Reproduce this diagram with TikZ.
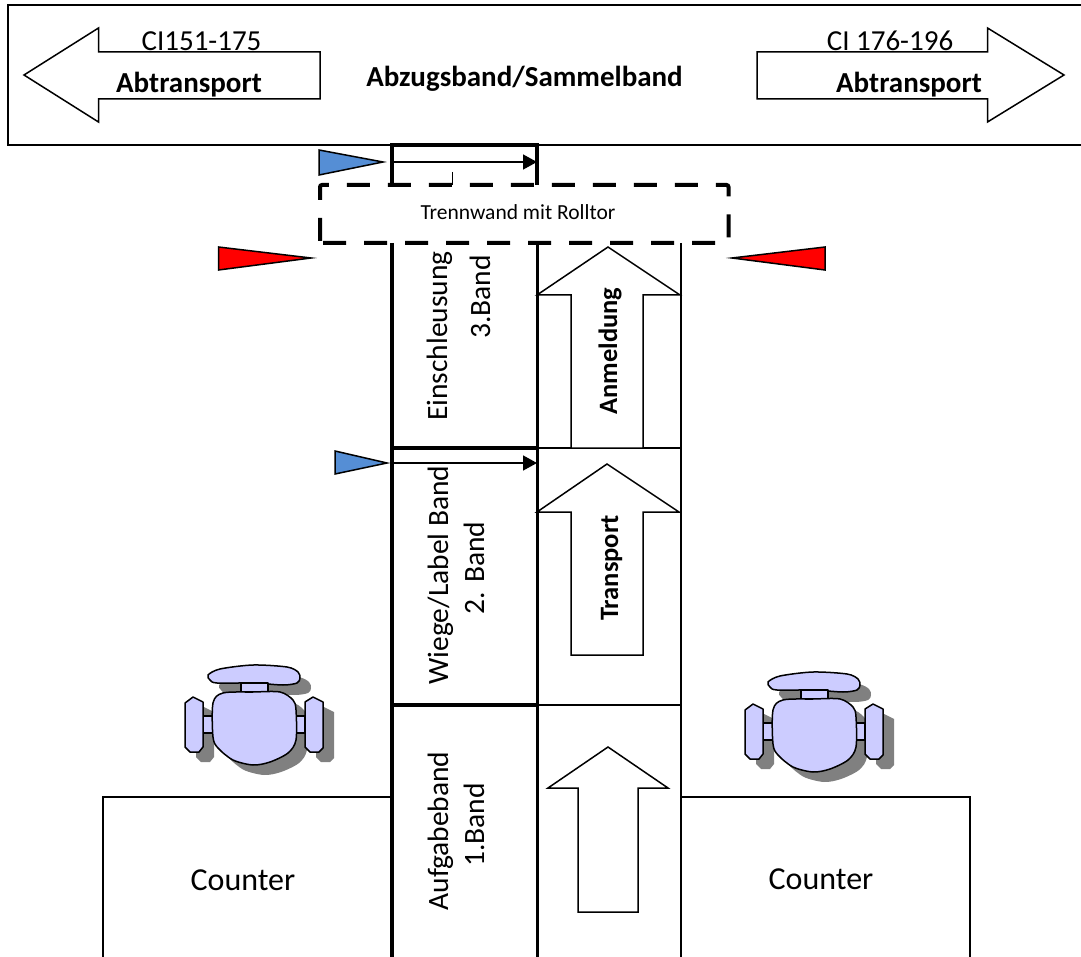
\documentclass[tikz,border=0pt]{standalone}
\usepackage{fontspec}
\setmainfont{Carlito}
\usetikzlibrary{arrows.meta}
\definecolor{flagBlue}{RGB}{85,142,213}
\definecolor{flagRed}{RGB}{255,0,0}
\definecolor{chairFill}{RGB}{204,204,255}
\definecolor{chairShadow}{RGB}{128,128,128}
\newcommand{\chairparts}[1]{%
\path[#1] plot[smooth cycle,tension=0.5] coordinates {(48,35) (60,29) (93,25) (127,27) (138,32) (140,38) (137,43) (123,45) (93,43) (57,43) (50,40)};
\path[#1] (81,43) rectangle (108,52);
\path[#1] (43,76) rectangle (53,93);
\path[#1] (136,76) rectangle (145,93);
\path[#1] (25,63) -- (33,57) -- (43,62) -- (43,107) -- (39,112) -- (30,112) -- (25,107) -- cycle;
\path[#1] (145,62) -- (153,57) -- (163,62) -- (163,108) -- (159,112) -- (150,112) -- (145,107) -- cycle;
\path[#1] plot[smooth cycle,tension=0.5] coordinates {(63,53) (93,52) (120,52) (133,60) (136,70) (136,100) (128,113) (110,122) (93,125) (73,120) (58,108) (53,97) (53,63)};
}
\tikzset{
  thinline/.style={draw=black,line width=1.5pt},
  midline/.style={draw=black,line width=2pt},
  thickline/.style={draw=black,line width=3.5pt},
  flag/.style={draw=black,line width=1.5pt,line join=miter},
  wall/.style={draw=black,line width=4pt,dash pattern=on 23pt off 18pt,rounded corners=2pt},
  bandtext/.style={anchor=base,rotate=90,inner sep=0pt,font=\fontsize{29.5}{35}\selectfont},
  boldtext/.style={inner sep=0pt,font=\fontsize{29}{30}\selectfont\bfseries},
  flowtext/.style={anchor=base,rotate=90,inner sep=0pt,font=\fontsize{26.5}{26}\selectfont\bfseries},
  plaintext/.style={inner sep=0pt,font=\fontsize{29}{30}\selectfont},
  countertext/.style={inner sep=0pt,font=\fontsize{32}{34}\selectfont},
  chairpic/.pic={
    \chairparts{fill=chairShadow,shift={(11,10)}}
    \chairparts{fill=chairFill,draw=black,line width=1.5pt,line join=round}
  }
}
\begin{document}
\begin{tikzpicture}[x=1pt,y=-1pt]
\path[use as bounding box,fill=white] (0,0) rectangle (1081,957);

% Abzugsband
\path[midline] (1081,5) -- (8,5) -- (8,145) -- (1081,145);

\path[thinline,fill=white] (24,75) -- (98.5,28) -- (98.5,52) -- (320,52) -- (320,99) -- (98.5,99) -- (98.5,122) -- cycle;

\path[thinline,fill=white] (1064,75) -- (987.5,28) -- (987.5,52) -- (757,52) -- (757,99) -- (987.5,99) -- (987.5,122) -- cycle;

\node[plaintext] (ciLeft) at (201.5,41) {CI151-175};

\node[plaintext] (ciRight) at (890,41) {CI 176-196};

\node[boldtext] (abLeft) at (189,84.5) {Abtransport};

\node[boldtext] (abRight) at (909,84.5) {Abtransport};

\node[boldtext] (sammel) at (524.5,78.5) {Abzugsband/Sammelband};

% Baender
\path[thickline] (392,243) -- (392,957);

\path[thickline,line width=3pt] (537,243) -- (537,957);

\path[midline] (681,243) -- (681,957);

\path[thickline] (392,448) -- (537,448);

\path[midline] (537,448) -- (681,448);

\path[thickline] (392,705) -- (537,705);

\path[midline] (537,705) -- (681,705);

% Counter
\path[midline] (391,797) -- (103,797) -- (103,957);

\path[midline] (681,797) -- (970,797) -- (970,957);

\node[countertext] (counterLeft) at (243,880) {Counter};

\node[countertext] (counterRight) at (821,879) {Counter};

% Pfeile auf den Baendern
\path[thinline,fill=white] (608,247) -- (680,295) -- (643,295) -- (643,448) -- (571,448) -- (571,295) -- (537,295) -- cycle;

\path[thinline,fill=white] (607,464) -- (679,512) -- (643,512) -- (643,655) -- (571,655) -- (571,512) -- (537,512) -- cycle;

\path[thinline,fill=white] (608,747) -- (668,788) -- (638,788) -- (638,912) -- (578,912) -- (578,788) -- (548,788) -- cycle;

\node[flowtext] (anmeldung) at (617,351) {Anmeldung};

\node[flowtext] (transport) at (618,568) {Transport};

\node[bandtext] (band3a) at (447,336) {Einschleusung};

\node[bandtext] (band3b) at (490,297) {3.Band};

\node[bandtext] (band2a) at (448,575) {Wiege/Label Band};

\node[bandtext] (band2b) at (484,568) {2. Band};

\node[bandtext] (band1a) at (448,831) {Aufgabeband};

\node[bandtext] (band1b) at (484,825) {1.Band};

% Lichtschranken
\path[flag,fill=flagBlue] (319,150) -- (383,162) -- (319,175) -- cycle;

\path[flag,fill=flagBlue] (335,451) -- (387,463) -- (335,474) -- cycle;

\path[flag,fill=flagRed] (218.5,247) -- (311,258) -- (218.5,270) -- cycle;

\path[flag,fill=flagRed] (825,247) -- (732,258) -- (825,270) -- cycle;

\coordinate (beamTopStart) at (392,162);
\coordinate (beamTopEnd) at (537,162);
\coordinate (beamMidStart) at (392,463);
\coordinate (beamMidEnd) at (537,463);

\draw[line width=1.5pt,-{Triangle[length=14pt,width=15pt]}] (beamTopStart) -- (beamTopEnd);

\draw[line width=1.5pt,-{Triangle[length=14pt,width=15pt]}] (beamMidStart) -- (beamMidEnd);

% Rahmen oben und Trennwand
\path[thickline] (392,185) -- (392,145) -- (537,145) -- (537,185);

\path[thinline] (452.5,172) -- (452.5,185);

\path[wall] (320,243) -- (320,185) -- (728.5,185) -- (728.5,243) -- cycle;

\node[inner sep=0pt,font=\fontsize{21.5}{24}\selectfont] (trennwand) at (518,212) {Trennwand mit Rolltor};

% Stuehle
\pic at (160,640) {chairpic};

\pic at (720,647) {chairpic};
\end{tikzpicture}
\end{document}
